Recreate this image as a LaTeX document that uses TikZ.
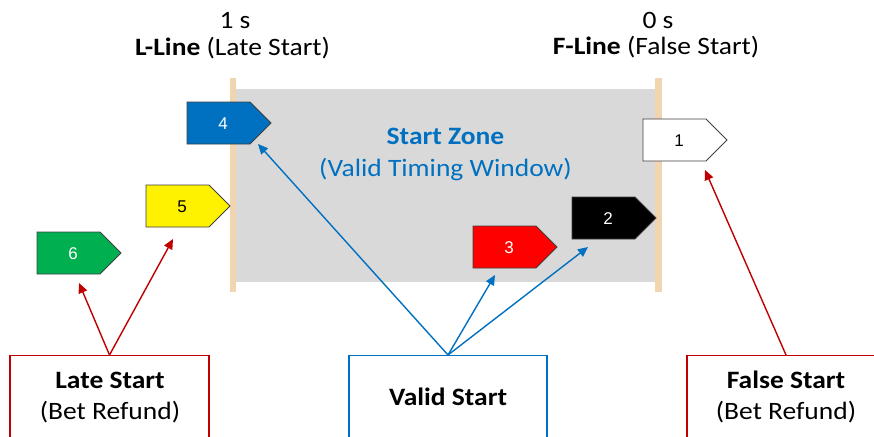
\documentclass[tikz,border=0pt]{standalone}
\usepackage{fontspec}
\setmainfont{Carlito}[FakeStretch=1.1]
\newfontfamily\numfont{Liberation Sans}
\usetikzlibrary{arrows.meta}

\definecolor{zonegray}{HTML}{D9D9D9}
\definecolor{linetan}{HTML}{F0D5B0}
\definecolor{accentblue}{HTML}{0070C0}
\definecolor{darkred}{HTML}{C00000}
\definecolor{flaggreen}{HTML}{00B050}
\definecolor{flagedge}{HTML}{404040}

\tikzset{
  txt/.style={inner sep=0pt, anchor=base, font=\fontsize{25}{30}\selectfont},
  pennant/.style={draw=flagedge, line width=0.8pt},
  numlabel/.style={inner sep=0pt, font=\numfont\fontsize{17}{20}\selectfont},
  redlink/.style={draw=darkred, line width=1.4pt, -{Triangle[length=10pt,width=9pt]}},
  bluelink/.style={draw=accentblue, line width=1.4pt, -{Triangle[length=10pt,width=9pt]}},
  outcome/.style={draw=#1, line width=1.4pt, fill=white, minimum height=100pt, anchor=north, inner sep=0pt},
}

% pennant: name, left, top, fill, text colour, number
\newcommand\pennant[6]{%
  \draw[pennant, fill=#4] (#2,#3) -- ++(63,0) -- ++(21,21) -- ++(-21,21) -- ++(-63,0) -- cycle;
  \node[numlabel, text=#5] (#1) at (#2+36,#3+21.5) {#6};
}

\begin{document}
\begin{tikzpicture}[x=1pt, y=-1pt]
  \useasboundingbox (0,0) rectangle (874,436);
  \clip (0,0) rectangle (874,436);

  % start zone and the two timing lines
  \fill[zonegray] (236,89) rectangle (655,282);
  \fill[linetan] (230,78) rectangle (236,292);
  \fill[linetan] (655,78) rectangle (662,292);

  % line captions
  \node[txt] (onesec) at (235,29) {1 s};
  \node[txt] (lline) at (232.5,56) {\textbf{L-Line} (Late Start)};
  \node[txt] (zerosec) at (658,29) {0 s};
  \node[txt] (fline) at (656,54) {\textbf{F-Line} (False Start)};

  % zone caption
  \node[txt, text=accentblue] (zone) at (445.5,144) {\textbf{Start Zone}};
  \node[txt, text=accentblue] (zonesub) at (445.5,176.5) {(Valid Timing Window)};

  % runners' flags
  \pennant{p4}{187}{102}{accentblue}{white}{4}
  \pennant{p5}{146}{185}{yellow}{black}{5}
  \pennant{p6}{37}{232}{flaggreen}{white}{6}
  \pennant{p3}{473}{226}{red}{white}{3}
  \pennant{p2}{572}{197}{black}{white}{2}
  \pennant{p1}{643}{119}{white}{black}{1}

  % outcome boxes
  \node[outcome=darkred, minimum width=199pt] (late) at (109.5,355) {};
  \node[outcome=accentblue, minimum width=198pt] (valid) at (448,355) {};
  \node[outcome=darkred, minimum width=198pt] (false) at (786,355) {};

  \node[txt] (latetitle) at (110,388) {\textbf{Late Start}};
  \node[txt] (latesub) at (110,419) {(Bet Refund)};
  \node[txt] (validtitle) at (448,405) {\textbf{Valid Start}};
  \node[txt] (falsetitle) at (786,388) {\textbf{False Start}};
  \node[txt] (falsesub) at (786,419) {(Bet Refund)};

  % arrow targets below the flags
  \coordinate (t6) at (79,283);
  \coordinate (t5) at (173,239);
  \coordinate (t4) at (258,144);
  \coordinate (t3) at (495,275);
  \coordinate (t2) at (588,247);
  \coordinate (t1) at (705,170);

  % connectors
  \draw[redlink] (late.north) -- (t6);
  \draw[redlink] (late.north) -- (t5);
  \draw[bluelink] (valid.north) -- (t4);
  \draw[bluelink] (valid.north) -- (t3);
  \draw[bluelink] (valid.north) -- (t2);
  \draw[redlink] (false.north) -- (t1);
\end{tikzpicture}
\end{document}
